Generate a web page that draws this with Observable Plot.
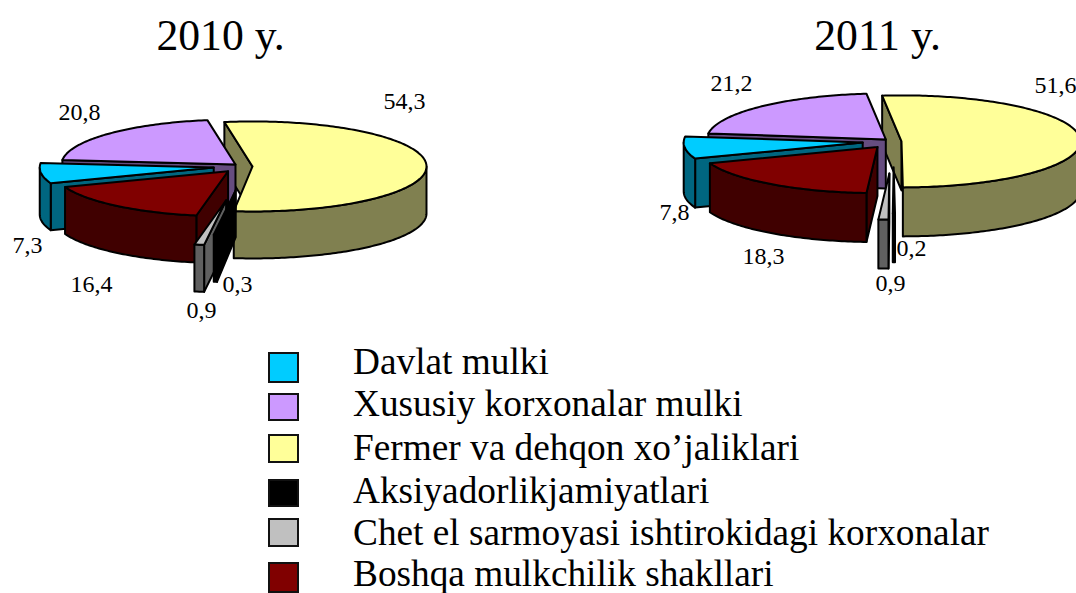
<!DOCTYPE html>
<html>
<head>
<meta charset="utf-8">
<script src="https://cdn.jsdelivr.net/npm/d3@7"></script>
<script src="https://cdn.jsdelivr.net/npm/@observablehq/plot@0.6"></script>
<style>
html,body{margin:0;padding:0;background:#fff;width:1076px;height:593px;overflow:hidden}
#chart svg{display:block;background:#fff}
#legend{position:relative;height:253px;font-family:"Liberation Serif",serif;font-size:37.3px;color:#000}
.row{position:absolute;left:353px;line-height:.85;white-space:nowrap}
.sw{position:absolute;left:268px;width:27px;box-sizing:content-box;border:2px solid #111}
</style>
</head>
<body>
<div id="chart"></div>
<div id="legend"></div>
<script>
// Data
const categories = ["Fermer va dehqon xo’jaliklari","Aksiyadorlikjamiyatlari","Chet el sarmoyasi ishtirokidagi korxonalar","Boshqa mulkchilik shakllari","Davlat mulki","Xususiy korxonalar mulki"];
const values2010 = [54.3,0.3,0.9,16.4,7.3,20.8];
const values2011 = [51.6,0.2,0.9,18.3,7.8,21.2];
const titles = ["2010 y.","2011 y."];
const legendOrder = [4,5,0,1,2,3];

// Style and layout
const topColors  = ["#FFFF99","#000000","#C0C0C0","#800000","#00CCFF","#CC99FF"];
const sideColors = ["#808050","#000000","#606060","#400000","#006680","#664D80"];
const drawOrder  = [0,5,4,3,2,1];
const pies = [
  {values:values2010, cx:243, cy:166, start:-9.3, rx:174, ry:45, depth:47, explode:[9,92,132,24,30,11], shiftX:[0,3,3,0,0,0], title:[220,49],
   labels:[[383,108],[222,291],[186,317],[70,291],[12,252],[58,119]]},
  {values:values2011, cx:893, cy:141, start:-6.2, rx:179, ry:46, depth:49, explode:[8,100,125,27,31,11], shiftX:[0,0,0,0,0,0], title:[877,49],
   labels:[[1034,92],[896,255],[875,290],[742,263],[659,219],[710,90]]}
];
const H = 340;
const rad = d => d*Math.PI/180;

function faces(p){
  const out=[]; let a=p.start; const spans=p.values.map(v=>{const s=[a,a+v*3.6];a=s[1];return s;});
  for(const i of drawOrder){
    const [a0,a1]=spans[i], mid=(a0+a1)/2;
    const ax=p.cx+p.explode[i]*Math.sin(rad(mid))+p.shiftX[i], ay=p.cy-p.explode[i]*Math.cos(rad(mid))*p.ry/p.rx;
    const pt=(t,dz=0)=>({x:ax+p.rx*Math.sin(rad(t)),y:ay-p.ry*Math.cos(rad(t))+dz});
    const arc=(t0,t1,dz=0)=>{const n=Math.max(2,Math.ceil(Math.abs(t1-t0)));return d3.range(n+1).map(k=>pt(t0+(t1-t0)*k/n,dz));};
    const apex=(dz=0)=>({x:ax,y:ay+dz});
    // radial face at the slice's start angle (visible when it faces the viewer)
    if(Math.sin(rad(a0))<0){
      out.push({fill:sideColors[i],pts:[pt(a0),apex(),apex(p.depth),pt(a0,p.depth),pt(a0)]});
    }
    // outer wall: the front half of the rim
    const w0=Math.max(a0,90), w1=Math.min(a1,270);
    if(w1>w0){
      const top=arc(w0,w1), bot=arc(w1,w0,p.depth);
      out.push({fill:sideColors[i],pts:[...top,...bot,top[0]]});
    }
    // top surface
    out.push({fill:topColors[i],pts:[apex(),...arc(a0,a1),apex()]});
  }
  return out;
}

const marks=[];
for(const p of pies){
  for(const f of faces(p)){
    marks.push(Plot.line(f.pts,{x:"x",y:"y",fill:f.fill,stroke:"#000",strokeWidth:2,strokeLinejoin:"round"}));
  }
}
const labelRows=pies.flatMap(p=>p.values.map((v,i)=>({x:p.labels[i][0],y:p.labels[i][1],t:v.toFixed(1).replace(".",",")})));
marks.push(Plot.text(labelRows,{x:"x",y:"y",text:"t",textAnchor:"start",lineAnchor:"bottom",fontSize:24,fontFamily:"Liberation Serif",fill:"#000"}));
const titleRows=pies.map((p,i)=>({x:p.title[0],y:p.title[1],t:titles[i]}));
marks.push(Plot.text(titleRows,{x:"x",y:"y",text:"t",textAnchor:"middle",lineAnchor:"bottom",fontSize:43.7,fontFamily:"Liberation Serif",fill:"#000"}));

const svg=Plot.plot({
  width:1076,height:H,margin:0,
  x:{domain:[0,1076],range:[0,1076],axis:null},
  y:{domain:[0,H],range:[0,H],axis:null},
  marks
});
svg.style.overflow="hidden";
document.getElementById("chart").append(svg);

// Legend below the SVG
const swTop=[12,53,94,139,178,222], swH=[27,24,25,24,25,27], baseY=[34,76,120,163,205,246];
const lg=document.getElementById("legend");
legendOrder.forEach((c,i)=>{
  const s=document.createElement("div");s.className="sw";
  s.style.top=swTop[i]+"px";s.style.height=swH[i]+"px";s.style.background=topColors[c];
  lg.append(s);
  const t=document.createElement("div");t.className="row";t.textContent=categories[c];
  t.style.top=(baseY[i]-27.7)+"px";
  lg.append(t);
});
</script>
</body>
</html>
